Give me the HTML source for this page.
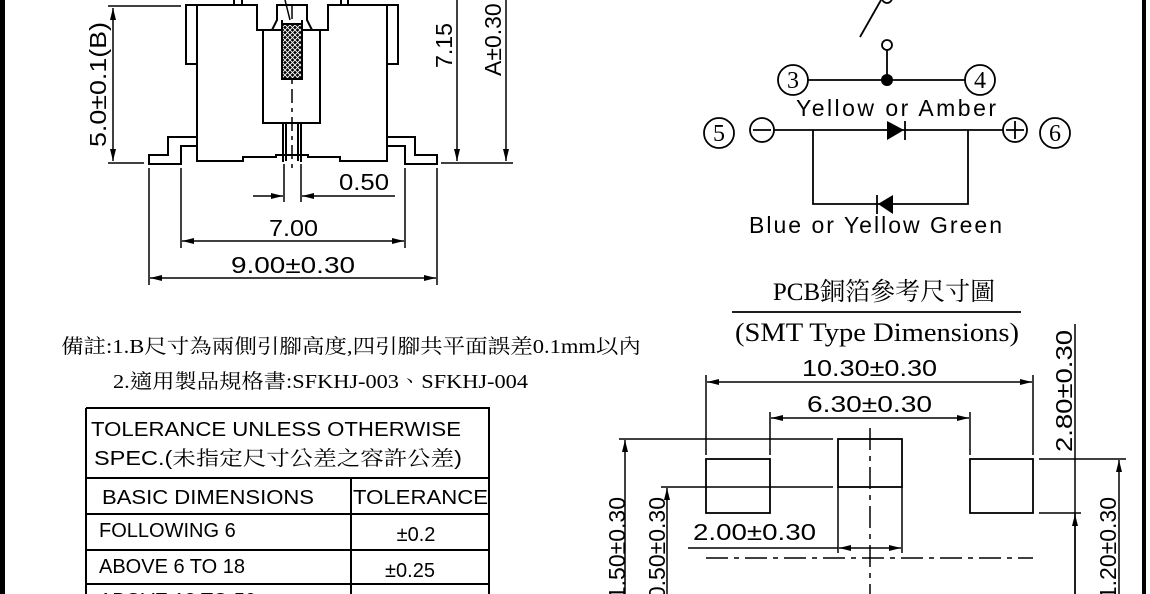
<!DOCTYPE html>
<html><head><meta charset="utf-8"><style>
html,body{margin:0;padding:0;background:#fff;}
svg{display:block;}
.s{font-family:"Liberation Sans",sans-serif;}
.r{font-family:"Liberation Serif","Noto Serif CJK SC",serif;}
</style></head><body>
<svg width="1150" height="594" viewBox="0 0 1150 594" xmlns="http://www.w3.org/2000/svg">
<defs>
<marker id="a" viewBox="0 0 12 6" refX="12" refY="3" markerWidth="12" markerHeight="6" orient="auto-start-reverse" markerUnits="userSpaceOnUse"><path d="M0,0 L12,3 L0,6 z" fill="#000"/></marker>
<pattern id="h" width="5" height="5" patternUnits="userSpaceOnUse"><rect width="5" height="5" fill="#000"/><path d="M0,0L5,5M5,0L0,5" stroke="#fff" stroke-width="0.9"/></pattern>
</defs>
<rect x="0" y="0" width="5" height="594" fill="#000"/>
<rect x="1142" y="0" width="4" height="594" fill="#000"/>
<g fill="none" stroke="#000" stroke-width="2">
<rect x="186" y="5" width="11" height="59"/>
<rect x="387" y="5" width="11" height="59"/>
<path d="M197,5 H257 V30 H272 L277,20 V5 H307 V20 L312,30 H328 V5 H387 V161 H340 V157 H308 V155 H276 V157 H243 V161 H197 Z"/>
<rect x="263" y="30" width="57" height="93"/>
<path d="M282,20 V24 M302,20 V24"/>
<path d="M283,123 V162 M301,123 V162 M286,123 V161 M298,123 V161"/>
<path d="M234,0 V5 M242,0 V5 M341,0 V5 M348,0 V5"/>
<path d="M285,0 L290,20" stroke-width="1.5"/>
<path d="M197,137 H168 V155 H149 V164 H181 V146 H197"/>
<path d="M387,137 H415 V155 H437 V164 H405 V146 H387"/>
<path d="M292,5 V172" stroke-dasharray="14,5,4,5" stroke-width="1.5"/>
</g>
<rect x="282" y="24" width="20" height="55" fill="url(#h)" stroke="#000" stroke-width="2"/>
<g fill="none" stroke="#000" stroke-width="1.5">
<path d="M108,6 H181 M108,163 H144"/>
<path d="M113,8 V161" marker-start="url(#a)" marker-end="url(#a)"/>
<path d="M441,163 H463 M463,163 H513"/>
<path d="M457,0 V161" marker-end="url(#a)"/>
<path d="M506,0 V161" marker-end="url(#a)"/>
<path d="M284,164 V202 M301,164 V202"/>
<path d="M253,196 H283" marker-end="url(#a)"/>
<path d="M395,196 H302" marker-end="url(#a)"/>
<path d="M181,168 V248 M405,168 V248 M149,168 V285 M437,168 V285"/>
<path d="M182,241 H404" marker-start="url(#a)" marker-end="url(#a)"/>
<path d="M150,278 H436" marker-start="url(#a)" marker-end="url(#a)"/>
</g>
<g class="s" font-size="23" fill="#000">
<text transform="translate(106,147) rotate(-90)" textLength="125" lengthAdjust="spacingAndGlyphs">5.0±0.1(B)</text>
<text transform="translate(452,68) rotate(-90)" textLength="45" lengthAdjust="spacingAndGlyphs">7.15</text>
<text transform="translate(501,76) rotate(-90)">A±0.30</text>
<text x="339" y="190" textLength="50" lengthAdjust="spacingAndGlyphs">0.50</text>
<text x="269" y="236" textLength="49" lengthAdjust="spacingAndGlyphs">7.00</text>
<text x="231" y="273" textLength="124" lengthAdjust="spacingAndGlyphs">9.00±0.30</text>
</g>
<g fill="none" stroke="#000" stroke-width="1.8">
<path d="M860,37 L881,0"/>
<circle cx="887" cy="-2" r="5"/>
<circle cx="887" cy="45" r="5"/>
<path d="M887,50 V80 M808,80 H965"/>
<circle cx="793" cy="80" r="15"/>
<circle cx="980" cy="80" r="15"/>
<circle cx="719" cy="133" r="15"/>
<circle cx="762" cy="130" r="12"/>
<path d="M753,130 H771"/>
<circle cx="1015" cy="130" r="12"/>
<path d="M1006,130 H1024 M1015,121 V139"/>
<circle cx="1055" cy="133" r="15"/>
<path d="M774,130 H1003 M813,130 V204 H968 V130 M905,121 V140 M877,195 V214"/>
</g>
<circle cx="887" cy="80" r="6" fill="#000"/>
<path d="M887,121 L887,140 L904,130 Z" fill="#000"/>
<path d="M893,195 L893,214 L878,204 Z" fill="#000"/>
<g class="r" font-size="24" fill="#000" text-anchor="middle">
<text x="793" y="88">3</text><text x="980" y="88">4</text>
<text x="719" y="141">5</text><text x="1055" y="141">6</text>
</g>
<g class="s" font-size="23" fill="#000">
<text x="796" y="116" textLength="200" lengthAdjust="spacing">Yellow or Amber</text>
<text x="749" y="233" textLength="253" lengthAdjust="spacing">Blue or Yellow Green</text>
</g>
<text x="884" y="300" class="r" font-size="25" text-anchor="middle" fill="#000">PCB銅箔參考尺寸圖</text>
<path d="M732,312 H1021" stroke="#000" stroke-width="1.8"/>
<text x="877" y="341" class="r" font-size="26" text-anchor="middle" fill="#000" textLength="284" lengthAdjust="spacingAndGlyphs">(SMT Type Dimensions)</text>
<g fill="none" stroke="#000" stroke-width="1.8">
<rect x="706" y="459" width="64" height="54"/>
<rect x="838" y="439" width="64" height="48"/>
<rect x="970" y="459" width="63" height="54"/>
</g>
<g fill="none" stroke="#000" stroke-width="1.5">
<path d="M706,375 V455 M770,412 V455 M970,412 V455 M1033,375 V455"/>
<path d="M707,382 H1032" marker-start="url(#a)" marker-end="url(#a)"/>
<path d="M771,418 H969" marker-start="url(#a)" marker-end="url(#a)"/>
<path d="M619,439 H833 M661,487 H833"/>
<path d="M838,487 V553 M902,487 V553"/>
<path d="M688,548 H838"/>
<path d="M839,548 H901" marker-start="url(#a)" marker-end="url(#a)"/>
<path d="M706,558 H1033" stroke-dasharray="22,6,5,6"/>
<path d="M870,428 V594" stroke-dasharray="22,6,5,6"/>
<path d="M625,440 V594" marker-start="url(#a)"/>
<path d="M667,488 V594" marker-start="url(#a)"/>
<path d="M1039,459 H1126 M1039,513 H1081"/>
<path d="M1075,324 V594"/>
<path d="M1075,514 V594" marker-start="url(#a)"/>
<path d="M1119,460 V594" marker-start="url(#a)"/>
</g>
<g class="s" font-size="23" fill="#000">
<text x="802" y="376" textLength="135" lengthAdjust="spacingAndGlyphs">10.30±0.30</text>
<text x="807" y="412" textLength="125" lengthAdjust="spacingAndGlyphs">6.30±0.30</text>
<text x="693" y="540" textLength="123" lengthAdjust="spacingAndGlyphs">2.00±0.30</text>
<text transform="translate(1072,452) rotate(-90)" textLength="122" lengthAdjust="spacingAndGlyphs">2.80±0.30</text>
<text transform="translate(625,497) rotate(-90)" text-anchor="end">1.50±0.30</text>
<text transform="translate(665,497) rotate(-90)" text-anchor="end">0.50±0.30</text>
<text transform="translate(1116,497) rotate(-90)" text-anchor="end">1.20±0.30</text>
</g>
<g font-size="20" fill="#000">
<text x="61" y="353" font-family="'Liberation Serif','Noto Serif CJK TC',serif" textLength="580" lengthAdjust="spacingAndGlyphs">備註:1.B尺寸為兩側引腳高度,四引腳共平面誤差0.1mm以內</text>
<text x="113" y="388" font-family="'Liberation Serif','Noto Serif CJK TC',serif" textLength="415" lengthAdjust="spacingAndGlyphs">2.適用製品規格書:SFKHJ-003、SFKHJ-004</text>
</g>
<g fill="none" stroke="#000" stroke-width="2">
<path d="M86,408 H489 V594 M86,408 V594 M86,478 H489 M86,514 H489 M86,550 H489 M86,584 H489 M351,478 V594"/>
</g>
<g class="s" font-size="20" fill="#000">
<text x="91" y="436" textLength="370" lengthAdjust="spacingAndGlyphs">TOLERANCE UNLESS OTHERWISE</text>
<text x="94" y="465" font-family="'Liberation Sans','Noto Serif CJK TC',sans-serif" textLength="368" lengthAdjust="spacingAndGlyphs">SPEC.(未指定尺寸公差之容許公差)</text>
<text x="102" y="504" textLength="212" lengthAdjust="spacingAndGlyphs">BASIC DIMENSIONS</text>
<text x="353" y="504" textLength="135" lengthAdjust="spacingAndGlyphs">TOLERANCE</text>
<text x="99" y="537">FOLLOWING 6</text>
<text x="416" y="541" text-anchor="middle">±0.2</text>
<text x="99" y="573">ABOVE 6 TO 18</text>
<text x="410" y="577" text-anchor="middle">±0.25</text>
<text x="99" y="607">ABOVE 18 TO 50</text>
<text x="410" y="611" text-anchor="middle">±0.3</text>
</g>
</svg>
</body></html>
